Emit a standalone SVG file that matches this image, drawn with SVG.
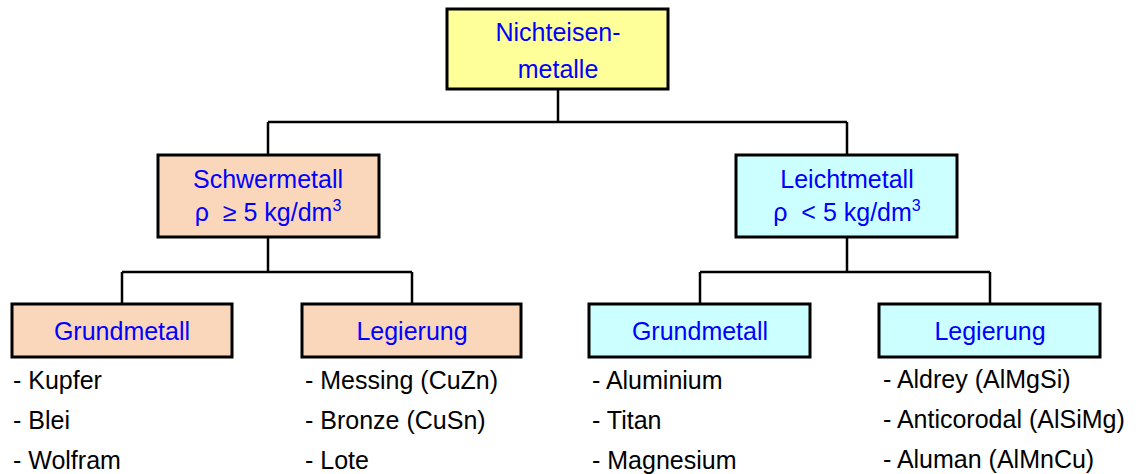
<svg xmlns="http://www.w3.org/2000/svg" width="1145" height="474" viewBox="0 0 1145 474">
<style>
.box{stroke:#000;stroke-width:3}
.yel{fill:#FFFF99}
.peach{fill:#FAD7BA}
.cyan{fill:#CCFFFF}
.t{font-family:"Liberation Sans",Arial,sans-serif;font-size:25px;fill:#0000FF;text-anchor:middle}
.l{font-family:"Liberation Sans",Arial,sans-serif;font-size:25px;fill:#000}
.c{fill:none;stroke:#000;stroke-width:2.5}
</style>
<rect width="1145" height="474" fill="#fff"/>
<g id="connectors">
<path class="c" d="M558 89V122M268 122H847M268 122V155M847 122V155"/>
<path class="c" d="M268 237V272M122 272H412M122 272V304M412 272V304"/>
<path class="c" d="M847 237V272M700 272H990M700 272V304M990 272V304"/>
</g>
<g id="n-root">
<rect class="box yel" x="447" y="9" width="221" height="80"/>
<text class="t" x="558" y="41">Nichteisen-</text>
<text class="t" x="558" y="78">metalle</text>
</g>
<g id="n-schwer">
<rect class="box peach" x="158" y="155" width="221" height="82"/>
<text class="t" x="268" y="188">Schwermetall</text>
<text class="t" x="268" y="221" xml:space="preserve">ρ  ≥ 5 kg/dm<tspan font-size="16" dy="-10">3</tspan></text>
</g>
<g id="n-leicht">
<rect class="box cyan" x="736" y="155" width="221" height="82"/>
<text class="t" x="847" y="188">Leichtmetall</text>
<text class="t" x="847" y="221" xml:space="preserve">ρ  &lt; 5 kg/dm<tspan font-size="16" dy="-10">3</tspan></text>
</g>
<g id="n-schwer-grund">
<rect class="box peach" x="12" y="304" width="220" height="53"/>
<text class="t" x="122" y="340">Grundmetall</text>
<text class="l" x="13" y="389">- Kupfer</text>
<text class="l" x="13" y="429">- Blei</text>
<text class="l" x="13" y="469">- Wolfram</text>
</g>
<g id="n-schwer-leg">
<rect class="box peach" x="302" y="304" width="219" height="53"/>
<text class="t" x="412" y="340">Legierung</text>
<text class="l" x="305" y="389">- Messing (CuZn)</text>
<text class="l" x="305" y="429">- Bronze (CuSn)</text>
<text class="l" x="305" y="469">- Lote</text>
</g>
<g id="n-leicht-grund">
<rect class="box cyan" x="589" y="304" width="221" height="53"/>
<text class="t" x="700" y="340">Grundmetall</text>
<text class="l" x="592" y="389">- Aluminium</text>
<text class="l" x="592" y="429">- Titan</text>
<text class="l" x="592" y="469">- Magnesium</text>
</g>
<g id="n-leicht-leg">
<rect class="box cyan" x="879" y="304" width="221" height="53"/>
<text class="t" x="990" y="340">Legierung</text>
<text class="l" x="883" y="388">- Aldrey (AlMgSi)</text>
<text class="l" x="883" y="428">- Anticorodal (AlSiMg)</text>
<text class="l" x="883" y="468">- Aluman (AlMnCu)</text>
</g>
</svg>
